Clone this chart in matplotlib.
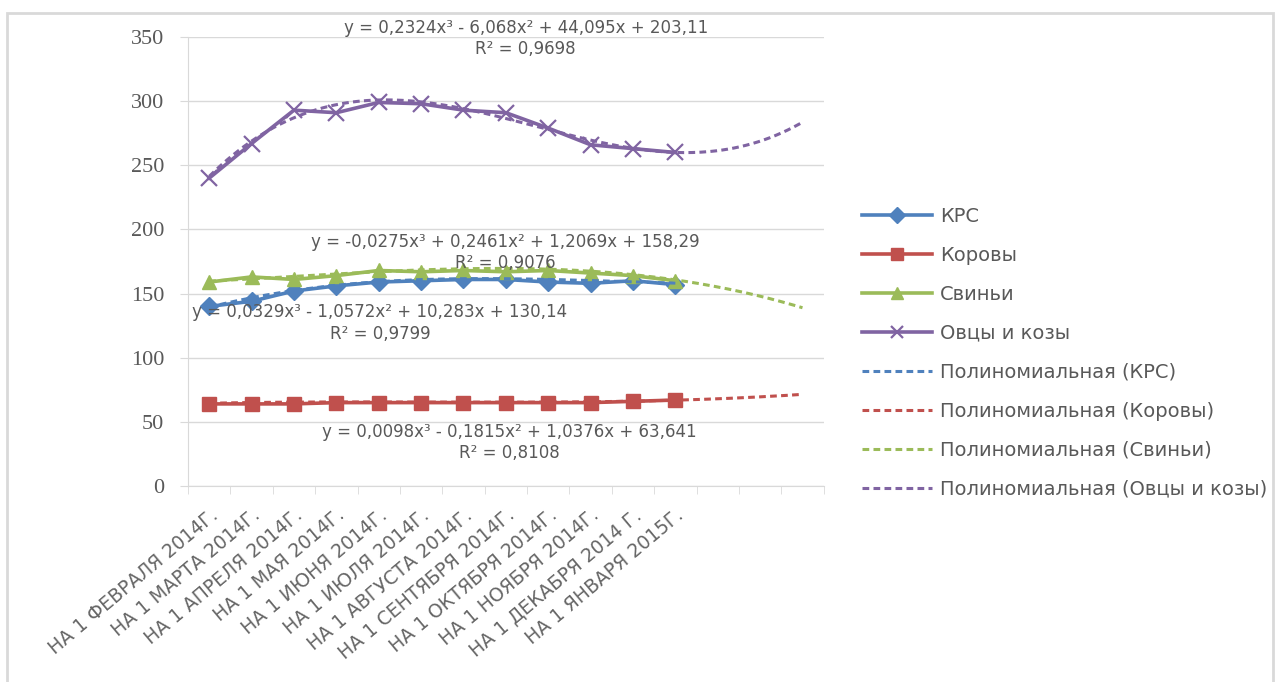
import matplotlib.pyplot as plt
import numpy as np
from matplotlib.patches import Rectangle

plt.rcParams['font.family'] = ['DejaVu Sans']

# Даты учёта поголовья (тыс. голов)
dates = ["НА 1 ФЕВРАЛЯ 2014Г.", "НА 1 МАРТА 2014Г.", "НА 1 АПРЕЛЯ 2014Г.",
         "НА 1 МАЯ 2014Г.", "НА 1 ИЮНЯ 2014Г.", "НА 1 ИЮЛЯ 2014Г.",
         "НА 1 АВГУСТА 2014Г.", "НА 1 СЕНТЯБРЯ 2014Г.", "НА 1 ОКТЯБРЯ 2014Г.",
         "НА 1 НОЯБРЯ 2014Г.", "НА 1 ДЕКАБРЯ 2014 Г.", "НА 1 ЯНВАРЯ 2015Г."]

krs = [140, 144, 152, 156, 159, 160, 161, 161, 159, 158, 160, 157]
korovy = [64, 64, 64, 65, 65, 65, 65, 65, 65, 65, 66, 67]
sviny = [159, 163, 161, 164, 168, 167, 168, 167, 168, 166, 164, 160]
ovcy = [240, 267, 293, 291, 299, 298, 293, 291, 279, 266, 263, 260]

# коэффициенты полиномиальных линий тренда (x³, x², x, свободный член)
coef_krs = [0.0329, -1.0572, 10.283, 130.14]
coef_korovy = [0.0098, -0.1815, 1.0376, 63.641]
coef_sviny = [-0.0275, 0.2461, 1.2069, 158.29]
coef_ovcy = [0.2324, -6.068, 44.095, 203.11]

eq_krs = "y = 0,0329x³ - 1,0572x² + 10,283x + 130,14\nR² = 0,9799"
eq_korovy = "y = 0,0098x³ - 0,1815x² + 1,0376x + 63,641\nR² = 0,8108"
eq_sviny = "y = -0,0275x³ + 0,2461x² + 1,2069x + 158,29\nR² = 0,9076"
eq_ovcy = "y = 0,2324x³ - 6,068x² + 44,095x + 203,11\nR² = 0,9698"

# прогноз вперёд на число периодов
forward_krs = 0
forward_korovy = 3
forward_sviny = 3
forward_ovcy = 3

c_blue = "#4F81BD"
c_red = "#C0504D"
c_green = "#9BBB59"
c_purple = "#8064A2"
grid_c = "#D9D9D9"
text_c = "#595959"

fig = plt.figure(figsize=(12.79, 6.82), dpi=100)
ax = fig.add_axes([0.147, 0.2874, 0.497, 0.6583])

x = np.arange(1, len(dates) + 1)

ax.plot(x, krs, color=c_blue, lw=2.6, marker="D", ms=9, label="КРС", zorder=3)
ax.plot(x, korovy, color=c_red, lw=2.6, marker="s", ms=10, label="Коровы", zorder=3)
ax.plot(x, sviny, color=c_green, lw=2.6, marker="^", ms=10, label="Свиньи", zorder=3)
ax.plot(x, ovcy, color=c_purple, lw=2.6, marker="x", ms=11, mew=1.6,
        label="Овцы и козы", zorder=3)

dash = (0, (2.2, 1.4))
trends = [(coef_krs, forward_krs, c_blue, "Полиномиальная (КРС)"),
          (coef_korovy, forward_korovy, c_red, "Полиномиальная (Коровы)"),
          (coef_sviny, forward_sviny, c_green, "Полиномиальная (Свиньи)"),
          (coef_ovcy, forward_ovcy, c_purple, "Полиномиальная (Овцы и козы)")]
for coef, fwd, col, lab in trends:
    xs = np.linspace(1, len(dates) + fwd, 200)
    ax.plot(xs, np.polyval(coef, xs), color=col, lw=2.2, ls=dash, label=lab, zorder=4)

eq_font = dict(ha="center", va="center", fontsize=12, color=text_c,
               linespacing=1.25, zorder=5)
ax.text(8.47, 349, eq_ovcy, **eq_font)
ax.text(7.98, 182, eq_sviny, **eq_font)
ax.text(5.03, 127, eq_krs, **eq_font)
ax.text(8.09, 34, eq_korovy, **eq_font)

ax.set_xlim(0.5, 15.5)
ax.set_ylim(0, 350)
ax.set_yticks(np.arange(0, 351, 50))
ax.tick_params(axis="y", length=6, color=grid_c, labelcolor=text_c, pad=11)
for lab in ax.get_yticklabels():
    lab.set_family("Liberation Serif")
    lab.set_fontsize(16)

ax.set_xticks(x)
ax.set_xticklabels(dates, rotation=40, ha="right", va="top", rotation_mode="anchor",
                   fontsize=13.5, color="#666666")
ax.tick_params(axis="x", length=0, pad=14)
ax.set_xticks(np.arange(0.5, 15.6, 1), minor=True)
ax.tick_params(axis="x", which="minor", length=6, color=grid_c)

ax.grid(axis="y", color=grid_c, lw=1)
ax.set_axisbelow(True)
for side in ["top", "right"]:
    ax.spines[side].set_visible(False)
ax.spines["left"].set_color(grid_c)
ax.spines["bottom"].set_color(grid_c)

fig.legend(loc="upper left", bbox_to_anchor=(0.674, 0.697), frameon=False,
           fontsize=14, handlelength=3.6, handletextpad=0.4, labelspacing=1.03,
           borderpad=0, borderaxespad=0, numpoints=1, markerscale=0.85,
           labelcolor=text_c)

fig.patches.append(Rectangle((7 / 1279, -0.02), 1266 / 1279, 1.02 - 13 / 682,
                             transform=fig.transFigure, fill=False,
                             edgecolor="#D9D9D9", lw=2))

fig.savefig("out.png", dpi=100)
